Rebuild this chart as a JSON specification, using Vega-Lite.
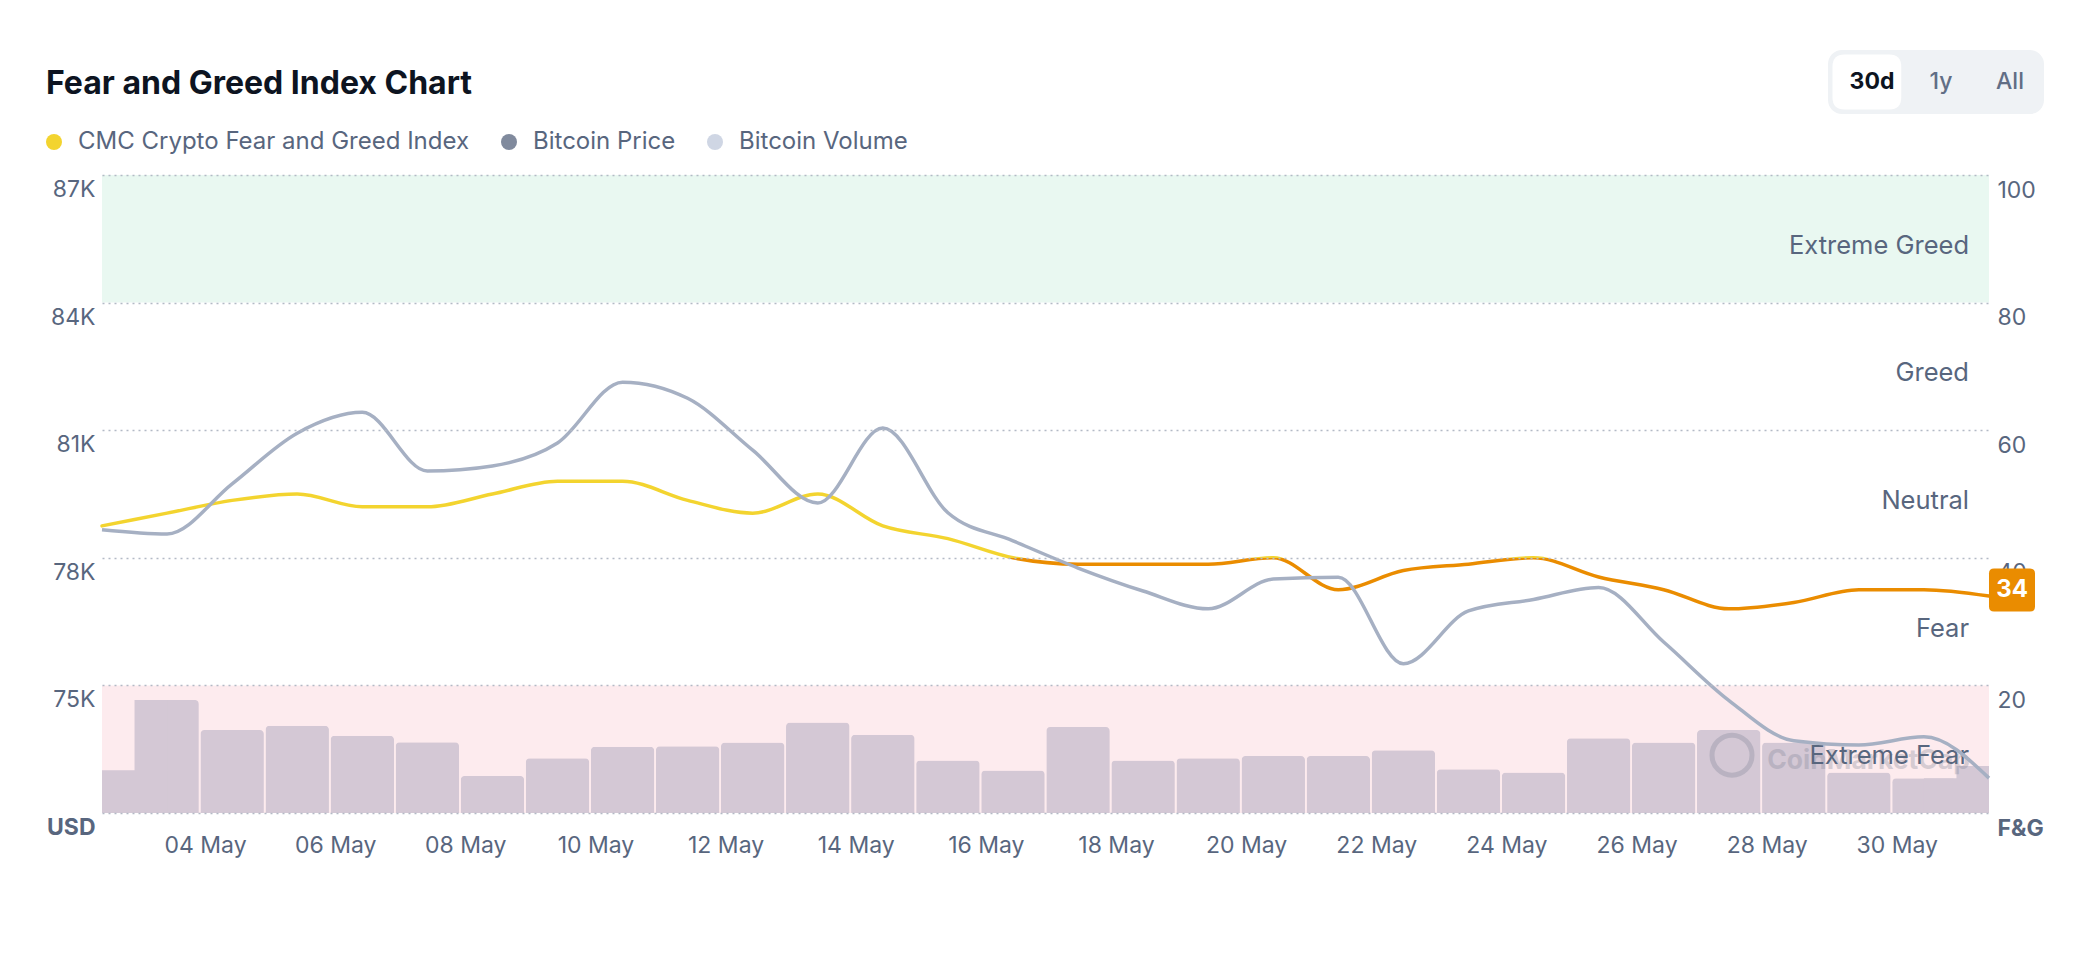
{
  "$schema": "https://vega.github.io/schema/vega-lite/v6.json",
  "autosize": {"type": "none"},
  "width": 1887,
  "height": 638,
  "padding": {"left": 102, "top": 175, "right": 91, "bottom": 147},
  "background": "#FFFFFF",
  "config": {
    "font": "Inter",
    "view": {"stroke": null},
    "scale": {"continuousPadding": 0}
  },
  "title": {
    "text": "Fear and Greed Index Chart",
    "anchor": "start",
    "frame": "group",
    "font": "Inter",
    "fontSize": 32,
    "fontWeight": 700,
    "color": "#0D1421",
    "baseline": "alphabetic",
    "offset": 0,
    "dy": 76,
    "dx": -56
  },
  "datasets": {
    "daily": [
      {"date": "2025-05-02T10:00:00", "fg": 45, "price": 78660, "volume": 16.8},
      {"date": "2025-05-03T10:00:00", "fg": 47, "price": 78560, "volume": 44.3},
      {"date": "2025-05-04T10:00:00", "fg": 49, "price": 79740, "volume": 32.5},
      {"date": "2025-05-05T10:00:00", "fg": 50, "price": 80930, "volume": 34.2},
      {"date": "2025-05-06T10:00:00", "fg": 48, "price": 81420, "volume": 30.3},
      {"date": "2025-05-07T10:00:00", "fg": 48, "price": 80040, "volume": 27.7},
      {"date": "2025-05-08T10:00:00", "fg": 50, "price": 80160, "volume": 14.5},
      {"date": "2025-05-09T10:00:00", "fg": 52, "price": 80700, "volume": 21.5},
      {"date": "2025-05-10T10:00:00", "fg": 52, "price": 82130, "volume": 26.0},
      {"date": "2025-05-11T10:00:00", "fg": 49, "price": 81750, "volume": 26.2},
      {"date": "2025-05-12T10:00:00", "fg": 47, "price": 80530, "volume": 27.6},
      {"date": "2025-05-13T10:00:00", "fg": 50, "price": 79290, "volume": 35.5},
      {"date": "2025-05-14T10:00:00", "fg": 45, "price": 81050, "volume": 30.7},
      {"date": "2025-05-15T10:00:00", "fg": 43, "price": 79060, "volume": 20.6},
      {"date": "2025-05-16T10:00:00", "fg": 40, "price": 78400, "volume": 16.7},
      {"date": "2025-05-17T10:00:00", "fg": 39, "price": 77760, "volume": 33.7},
      {"date": "2025-05-18T10:00:00", "fg": 39, "price": 77220, "volume": 20.6},
      {"date": "2025-05-19T10:00:00", "fg": 39, "price": 76800, "volume": 21.5},
      {"date": "2025-05-20T10:00:00", "fg": 40, "price": 77500, "volume": 22.3},
      {"date": "2025-05-21T10:00:00", "fg": 35, "price": 77540, "volume": 22.3},
      {"date": "2025-05-22T10:00:00", "fg": 38, "price": 75510, "volume": 24.6},
      {"date": "2025-05-23T10:00:00", "fg": 39, "price": 76750, "volume": 17.1},
      {"date": "2025-05-24T10:00:00", "fg": 40, "price": 77020, "volume": 15.9},
      {"date": "2025-05-25T10:00:00", "fg": 37, "price": 77300, "volume": 29.3},
      {"date": "2025-05-26T10:00:00", "fg": 35, "price": 76020, "volume": 27.6},
      {"date": "2025-05-27T10:00:00", "fg": 32, "price": 74650, "volume": 32.5},
      {"date": "2025-05-28T10:00:00", "fg": 33, "price": 73700, "volume": 27.6},
      {"date": "2025-05-29T10:00:00", "fg": 35, "price": 73600, "volume": 15.9},
      {"date": "2025-05-30T10:00:00", "fg": 35, "price": 73790, "volume": 13.6},
      {"date": "2025-05-31T10:00:00", "fg": 34, "price": 72820, "volume": 18.4}
    ],
    "zones": [
      {"zone": "Extreme Greed", "lo": 80, "hi": 100, "mid": 90},
      {"zone": "Greed", "lo": 60, "hi": 80, "mid": 70},
      {"zone": "Neutral", "lo": 40, "hi": 60, "mid": 50},
      {"zone": "Fear", "lo": 20, "hi": 40, "mid": 30},
      {"zone": "Extreme Fear", "lo": 0, "hi": 20, "mid": 10}
    ],
    "series": [
      {"series": "CMC Crypto Fear and Greed Index"},
      {"series": "Bitcoin Price"},
      {"series": "Bitcoin Volume"}
    ],
    "buttons": [
      {"btn": "30d"},
      {"btn": "1y"},
      {"btn": "All"}
    ]
  },
  "layer": [
    {
      "data": {"name": "zones"},
      "layer": [
        {
          "transform": [{"filter": "datum.zone == 'Extreme Greed'"}],
          "mark": {"type": "rect", "color": "#E9F8F1", "opacity": 1},
          "encoding": {
            "y": {"field": "lo", "type": "quantitative", "scale": {"domain": [0, 100]}, "axis": null},
            "y2": {"field": "hi"}
          }
        },
        {
          "transform": [{"filter": "datum.zone == 'Extreme Fear'"}],
          "mark": {"type": "rect", "color": "#FDEBEE", "opacity": 1},
          "encoding": {
            "y": {"field": "lo", "type": "quantitative", "scale": {"domain": [0, 100]}, "axis": null},
            "y2": {"field": "hi"}
          }
        }
      ]
    },
    {
      "data": {"name": "daily"},
      "transform": [
        {"window": [{"op": "row_number", "as": "rn"}], "sort": [{"field": "date", "order": "ascending"}]},
        {"window": [{"op": "row_number", "as": "rnd"}], "sort": [{"field": "date", "order": "descending"}]}
      ],
      "layer": [
        {
          "transform": [{"filter": "datum.rn > 1 && datum.rnd > 1"}],
          "mark": {"type": "bar", "color": "#D4C8D5", "opacity": 1, "size": 63.5, "cornerRadiusTopLeft": 4, "cornerRadiusTopRight": 4},
          "encoding": {
            "x": {"field": "date", "type": "temporal"},
            "y": {"field": "volume", "type": "quantitative", "scale": {"domain": [0, 250]}, "axis": null}
          }
        },
        {
          "transform": [{"filter": "datum.rn <= 2"}],
          "mark": {"type": "area", "interpolate": "step", "color": "#D4C8D5", "opacity": 1},
          "encoding": {
            "x": {"field": "date", "type": "temporal"},
            "y": {"field": "volume", "type": "quantitative", "scale": {"domain": [0, 250]}, "axis": null, "stack": null}
          }
        },
        {
          "transform": [{"filter": "datum.rnd <= 2"}],
          "mark": {"type": "area", "interpolate": "step", "color": "#D4C8D5", "opacity": 1},
          "encoding": {
            "x": {"field": "date", "type": "temporal"},
            "y": {"field": "volume", "type": "quantitative", "scale": {"domain": [0, 250]}, "axis": null, "stack": null}
          }
        }
      ]
    },
    {
      "layer": [
        {
          "data": {"name": "zones"},
          "transform": [{"filter": "datum.zone == 'Extreme Fear'"}],
          "mark": {"type": "point", "shape": "circle", "filled": false, "stroke": "#7D8394", "strokeWidth": 5, "size": 1600, "opacity": 0.3, "xOffset": -257, "yOffset": 6},
          "encoding": {
            "x": {"value": "width"},
            "y": {"field": "mid", "type": "quantitative", "scale": {"domain": [0, 100]}}
          }
        },
        {
          "data": {"name": "zones"},
          "transform": [{"filter": "datum.zone == 'Extreme Fear'"}],
          "mark": {"type": "text", "text": "CoinMarketCap", "font": "Inter", "fontSize": 26.5, "fontWeight": 700, "color": "#7D8394", "opacity": 0.3, "align": "right", "baseline": "alphabetic", "dx": -19, "dy": 20},
          "encoding": {
            "x": {"value": "width"},
            "y": {"field": "mid", "type": "quantitative", "scale": {"domain": [0, 100]}}
          }
        },
        {
          "data": {"name": "zones"},
          "mark": {"type": "text", "font": "Inter", "fontSize": 25.5, "color": "#58667E", "align": "right", "baseline": "alphabetic", "dx": -20, "dy": 15},
          "encoding": {
            "x": {"value": "width"},
            "y": {"field": "mid", "type": "quantitative", "scale": {"domain": [0, 100]}},
            "text": {"field": "zone"}
          }
        },
        {
          "data": {"name": "daily"},
          "mark": {
            "type": "line",
            "interpolate": "monotone",
            "strokeWidth": 3.5,
            "strokeCap": "round",
            "stroke": {
              "gradient": "linear",
              "x1": 0, "y1": 0, "x2": 0, "y2": 1,
              "stops": [
                {"offset": 0, "color": "#F3D42F"},
                {"offset": 0.6, "color": "#F3D42F"},
                {"offset": 0.6, "color": "#EA8C00"},
                {"offset": 1, "color": "#EA8C00"}
              ]
            }
          },
          "encoding": {
            "x": {"field": "date", "type": "temporal"},
            "y": {
              "field": "fg",
              "type": "quantitative",
              "scale": {"domain": [0, 100]},
              "axis": {
                "orient": "right",
                "title": null,
                "values": [0, 20, 40, 60, 80, 100],
                "labelExpr": "datum.value == 0 ? 'F&G' : datum.label",
                "labelFont": "Inter",
                "labelFontSize": 23,
                "labelColor": "#58667E",
                "labelFontWeight": {"condition": {"test": "datum.value == 0", "value": "bold"}, "value": "normal"},
                "labelBaseline": "alphabetic",
                "labelOffset": 22,
                "labelPadding": 8,
                "labelFlush": false,
                "labelOverlap": false,
                "domain": false,
                "ticks": false,
                "tickSize": 0,
                "grid": false,
                "zindex": 0
              }
            }
          }
        }
      ]
    },
    {
      "data": {"name": "daily"},
      "mark": {"type": "line", "interpolate": "monotone", "strokeWidth": 3.5, "color": "#A6B0C3"},
      "encoding": {
        "x": {
          "field": "date",
          "type": "temporal",
          "scale": {"nice": false},
          "axis": {
            "title": null,
            "values": [
              {"year": 2025, "month": 5, "date": 4},
              {"year": 2025, "month": 5, "date": 6},
              {"year": 2025, "month": 5, "date": 8},
              {"year": 2025, "month": 5, "date": 10},
              {"year": 2025, "month": 5, "date": 12},
              {"year": 2025, "month": 5, "date": 14},
              {"year": 2025, "month": 5, "date": 16},
              {"year": 2025, "month": 5, "date": 18},
              {"year": 2025, "month": 5, "date": 20},
              {"year": 2025, "month": 5, "date": 22},
              {"year": 2025, "month": 5, "date": 24},
              {"year": 2025, "month": 5, "date": 26},
              {"year": 2025, "month": 5, "date": 28},
              {"year": 2025, "month": 5, "date": 30}
            ],
            "format": "%d %b",
            "labelFont": "Inter",
            "labelFontSize": 23,
            "labelColor": "#58667E",
            "labelBaseline": "alphabetic",
            "labelPadding": 39,
            "labelFlush": false,
            "labelOverlap": false,
            "labelAngle": 0,
            "domain": false,
            "ticks": false,
            "tickSize": 0,
            "grid": false,
            "zindex": 1
          }
        },
        "y": {
          "field": "price",
          "type": "quantitative",
          "scale": {"domain": [72000, 87000], "nice": false, "zero": false},
          "axis": {
            "orient": "left",
            "title": null,
            "values": [72000, 75000, 78000, 81000, 84000, 87000],
            "labelExpr": "datum.value == 72000 ? 'USD' : format(datum.value / 1000, 'd') + 'K'",
            "labelFont": "Inter",
            "labelFontSize": 23,
            "labelColor": "#58667E",
            "labelFontWeight": {"condition": {"test": "datum.value == 72000", "value": "bold"}, "value": "normal"},
            "labelBaseline": "alphabetic",
            "labelOffset": 21.5,
            "labelPadding": 7,
            "labelFlush": false,
            "labelOverlap": false,
            "domain": false,
            "ticks": false,
            "tickSize": 0,
            "grid": true,
            "gridColor": "#B3BAC6",
            "gridDash": [2, 4],
            "gridWidth": 1.5,
            "zindex": 1
          }
        }
      }
    },
    {
      "data": {"name": "daily"},
      "transform": [
        {"window": [{"op": "row_number", "as": "rn"}], "sort": [{"field": "date", "order": "descending"}]},
        {"filter": "datum.rn == 1"}
      ],
      "layer": [
        {
          "mark": {
            "type": "point",
            "shape": "M-0.837,-1 L0.837,-1 Q1.07,-1 1.07,-0.767 L1.07,0.767 Q1.07,1 0.837,1 L-0.837,1 Q-1.07,1 -1.07,0.767 L-1.07,-0.767 Q-1.07,-1 -0.837,-1 Z",
            "size": 1849,
            "filled": true,
            "color": "#EA8C00",
            "strokeWidth": 0,
            "opacity": 1,
            "xOffset": 23,
            "yOffset": -6
          },
          "encoding": {
            "x": {"field": "date", "type": "temporal"},
            "y": {"field": "fg", "type": "quantitative", "scale": {"domain": [0, 100]}, "axis": null}
          }
        },
        {
          "mark": {"type": "text", "font": "Inter", "fontSize": 24, "fontWeight": 700, "color": "#FFFFFF", "align": "center", "baseline": "alphabetic", "dx": 23, "dy": 1},
          "encoding": {
            "x": {"field": "date", "type": "temporal"},
            "y": {"field": "fg", "type": "quantitative", "scale": {"domain": [0, 100]}, "axis": null},
            "text": {"field": "fg", "type": "quantitative"}
          }
        }
      ]
    },
    {
      "data": {"name": "series"},
      "mark": {"type": "point", "filled": true, "opacity": 0},
      "encoding": {
        "color": {
          "field": "series",
          "type": "nominal",
          "scale": {
            "domain": ["CMC Crypto Fear and Greed Index", "Bitcoin Price", "Bitcoin Volume"],
            "range": ["#F3D42F", "#808A9D", "#CFD6E4"]
          },
          "legend": {
            "title": null,
            "orient": "none",
            "legendX": -60,
            "legendY": -45,
            "direction": "horizontal",
            "symbolType": "circle",
            "symbolSize": 256,
            "symbolOpacity": 1,
            "symbolStrokeWidth": 0,
            "labelFont": "Inter",
            "labelFontSize": 24,
            "labelColor": "#58667E",
            "labelLimit": 0,
            "labelOffset": 12,
            "columnPadding": 27,
            "padding": 0
          }
        }
      }
    },
    {
      "data": {"name": "buttons"},
      "mark": {"type": "point", "filled": true, "opacity": 0},
      "encoding": {
        "fill": {
          "field": "btn",
          "type": "nominal",
          "scale": {"domain": ["30d", "1y", "All"], "range": ["#FFFFFF", "transparent", "transparent"]},
          "legend": {
            "title": null,
            "orient": "none",
            "legendX": 1726,
            "legendY": -125,
            "direction": "horizontal",
            "symbolType": "M-0.564,-1 L1.064,-1 Q1.5,-1 1.5,-0.564 L1.5,0.564 Q1.5,1 1.064,1 L-0.564,1 Q-1,1 -1,0.564 L-1,-0.564 Q-1,-1 -0.564,-1 Z",
            "symbolSize": 3025,
            "symbolOpacity": 1,
            "symbolStrokeWidth": 0,
            "labelFont": "Inter",
            "labelFontSize": 23,
            "labelAlign": "center",
            "labelOffset": -15.5,
            "labelLimit": 0,
            "columnPadding": 0,
            "padding": 4.5,
            "fillColor": "#EFF2F5",
            "cornerRadius": 14,
            "encode": {
              "labels": {
                "update": {
                  "fontWeight": {"signal": "datum.value == '30d' ? 700 : 500"},
                  "fill": {"signal": "datum.value == '30d' ? '#0D1421' : '#616E85'"}
                }
              }
            }
          }
        }
      }
    }
  ],
  "resolve": {"scale": {"y": "independent"}}
}
